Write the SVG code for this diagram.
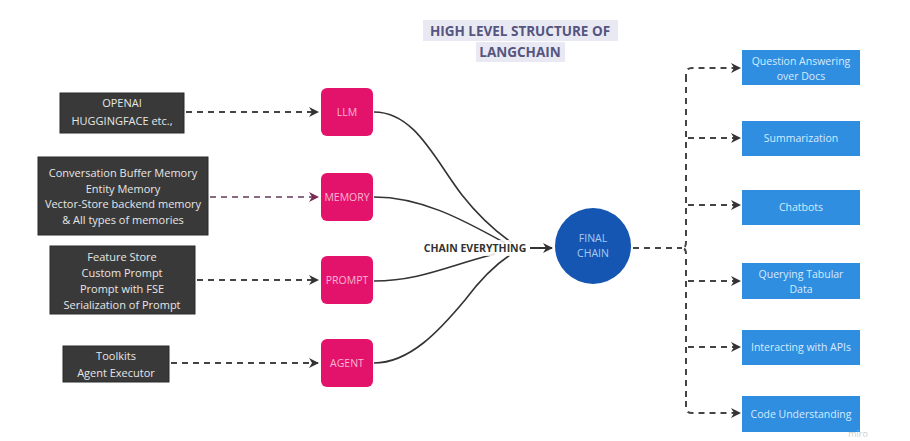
<svg xmlns="http://www.w3.org/2000/svg" width="910" height="441" viewBox="0 0 910 441">
<defs>
<marker id="ah" viewBox="0 0 10 10" refX="9" refY="5" markerWidth="10" markerHeight="10" markerUnits="userSpaceOnUse" orient="auto">
<path d="M0,0 L10,5 L0,10 L3,5 Z" fill="#333"/>
</marker>
<marker id="ahp" viewBox="0 0 10 10" refX="9" refY="5" markerWidth="10" markerHeight="10" markerUnits="userSpaceOnUse" orient="auto">
<path d="M0,0 L10,5 L0,10 L3,5 Z" fill="#7a2a55"/>
</marker>
<style>
text{font-family:"Open Sans","Liberation Sans",sans-serif;text-anchor:middle}
.dk{fill:#393939;stroke:#2a2a2a;stroke-width:1}
.dkt{fill:#e6e6e6;font-size:11px}
.pk{fill:#e3136c}
.pkt{fill:#f7b6d2;font-size:10.5px}
.bl{fill:#2f8ee0}
.blt{fill:#d6ebff;font-size:10.5px}
.dash{fill:none;stroke:#444;stroke-width:2;stroke-dasharray:6 5}
.cv{fill:none;stroke:#333;stroke-width:1.6}
</style>
</defs>
<rect width="910" height="441" fill="#ffffff"/>

<g id="title">
<rect x="423" y="20" width="195" height="21" fill="#e9e9f3"/>
<rect x="476" y="42" width="89" height="20" fill="#e9e9f3"/>
<text x="520" y="36" font-size="13.5" font-weight="bold" fill="#55557f">HIGH LEVEL STRUCTURE OF</text>
<text x="520" y="57" font-size="13.5" font-weight="bold" fill="#55557f">LANGCHAIN</text>
</g>

<g id="connectors">
<path class="dash" d="M186,112 H318" marker-end="url(#ah)"/>
<path class="dash" d="M210,197 H318" style="stroke:#8a6a80" marker-end="url(#ahp)"/>
<path class="dash" d="M197,280 H318" marker-end="url(#ah)"/>
<path class="dash" d="M171,363 H318" marker-end="url(#ah)"/>
<path class="cv" d="M374,112 C415,112 435,160 462,195 C480,218 498,233 512,243"/>
<path class="cv" d="M374,197 C420,197 460,218 505,243"/>
<path class="cv" d="M374,281 C420,281 450,265 495,254"/>
<path class="cv" d="M374,363 C410,363 440,330 465,300 C480,280 495,265 510,255"/>
<path d="M530,248 H552" fill="none" stroke="#333" stroke-width="2" marker-end="url(#ah)"/>
<path class="dash" d="M633,248 H682"/>
<path class="dash" d="M686,76 V242 Q686,248 682,248 Q686,248 686,254 V405"/>
<path class="dash" d="M686,80 V74 Q686,68 692,68 H740" marker-end="url(#ah)"/>
<path class="dash" d="M686,401 V407 Q686,413 692,413 H740" marker-end="url(#ah)"/>
<path class="dash" d="M688,138 H740" marker-end="url(#ah)"/>
<path class="dash" d="M688,205 H740" marker-end="url(#ah)"/>
<path class="dash" d="M688,281 H740" marker-end="url(#ah)"/>
<path class="dash" d="M688,347 H740" marker-end="url(#ah)"/>
</g>

<g id="src-openai">
<rect class="dk" x="60" y="93" width="124" height="40"/>
<text class="dkt" x="122" y="107">OPENAI</text>
<text class="dkt" x="122" y="125">HUGGINGFACE etc.,</text>
</g>
<g id="src-memory">
<rect class="dk" x="38" y="157" width="170" height="78"/>
<text class="dkt" x="123" y="177">Conversation Buffer Memory</text>
<text class="dkt" x="123" y="193">Entity Memory</text>
<text class="dkt" x="123" y="208">Vector-Store backend memory</text>
<text class="dkt" x="123" y="224">&amp; All types of memories</text>
</g>
<g id="src-prompt">
<rect class="dk" x="50" y="246" width="145" height="68"/>
<text class="dkt" x="122" y="261">Feature Store</text>
<text class="dkt" x="122" y="277">Custom Prompt</text>
<text class="dkt" x="122" y="293">Prompt with FSE</text>
<text class="dkt" x="122" y="309">Serialization of Prompt</text>
</g>
<g id="src-agent">
<rect class="dk" x="63" y="346" width="106" height="36"/>
<text class="dkt" x="116" y="360">Toolkits</text>
<text class="dkt" x="116" y="377">Agent Executor</text>
</g>

<g id="llm">
<rect class="pk" x="321" y="88" width="52" height="48" rx="6"/>
<text class="pkt" x="347" y="116">LLM</text>
</g>
<g id="memory">
<rect class="pk" x="321" y="173" width="52" height="48" rx="6"/>
<text class="pkt" x="347" y="201">MEMORY</text>
</g>
<g id="prompt">
<rect class="pk" x="321" y="256" width="52" height="48" rx="6"/>
<text class="pkt" x="347" y="284">PROMPT</text>
</g>
<g id="agent">
<rect class="pk" x="321" y="339" width="52" height="48" rx="6"/>
<text class="pkt" x="347" y="367">AGENT</text>
</g>

<g id="chain-everything">
<rect x="421" y="240" width="108" height="16" fill="#ffffff" opacity="0.85"/>
<text x="475" y="252" font-size="10.5" font-weight="bold" fill="#333">CHAIN EVERYTHING</text>
</g>

<g id="final-chain">
<circle cx="593" cy="246" r="38" fill="#1456b2"/>
<text x="593" y="242" font-size="10.5" fill="#a9cbf2">FINAL</text>
<text x="593" y="257" font-size="10.5" fill="#a9cbf2">CHAIN</text>
</g>

<g id="qa">
<rect class="bl" x="742" y="50" width="118" height="35"/>
<text class="blt" x="801" y="65">Question Answering</text>
<text class="blt" x="801" y="80">over Docs</text>
</g>
<g id="summarization">
<rect class="bl" x="742" y="121" width="118" height="35"/>
<text class="blt" x="801" y="142">Summarization</text>
</g>
<g id="chatbots">
<rect class="bl" x="742" y="190" width="118" height="35"/>
<text class="blt" x="801" y="211">Chatbots</text>
</g>
<g id="tabular">
<rect class="bl" x="742" y="263" width="118" height="36"/>
<text class="blt" x="801" y="278">Querying Tabular</text>
<text class="blt" x="801" y="293">Data</text>
</g>
<g id="apis">
<rect class="bl" x="742" y="330" width="118" height="35"/>
<text class="blt" x="801" y="351">Interacting with APIs</text>
</g>
<g id="code">
<rect class="bl" x="742" y="396" width="118" height="36"/>
<text class="blt" x="801" y="418">Code Understanding</text>
</g>

<text x="858" y="437" font-size="9" fill="#d0d0d0">miro</text>
</svg>
